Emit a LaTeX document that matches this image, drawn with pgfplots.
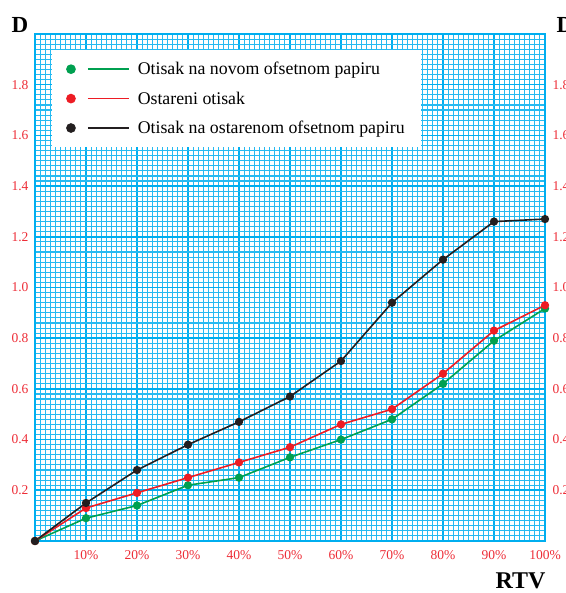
\documentclass[border=0pt]{standalone}
\usepackage{pgfplots}
\pgfplotsset{compat=1.18}
\usepackage{fontspec}
\setmainfont{Liberation Serif}
\definecolor{gridc}{RGB}{0,174,239}
\definecolor{tickred}{RGB}{237,45,55}
\definecolor{cgreen}{RGB}{0,160,80}
\definecolor{cred}{RGB}{237,28,36}
\definecolor{cblack}{RGB}{35,31,32}
\begin{document}
\begin{tikzpicture}
\pgfplotsset{
  common/.style={
    scale only axis, width=510bp, height=507bp,
    xmin=0, xmax=100, ymin=0, ymax=2.0,
    /pgf/number format/assume math mode=true,
  }
}
\begin{axis}[common,
  clip=false,
  xtick={0,10,...,100},
  xticklabels={,10\%,20\%,30\%,40\%,50\%,60\%,70\%,80\%,90\%,100\%},
  ytick={0,0.2,...,2.01},
  yticklabels={,0.2,0.4,0.6,0.8,1.0,1.2,1.4,1.6,1.8,},
  minor x tick num=9, minor y tick num=9,
  major tick length=0pt, minor tick length=0pt,
  grid=both,
  major grid style={draw=gridc, line width=1.6bp},
  minor grid style={draw=gridc!85, line width=1.1bp},
  axis line style={draw=gridc, line width=2bp},
  tick label style={font=\fontsize{13.5bp}{15bp}\selectfont, text=tickred},
  xticklabel style={yshift=-6bp},
  yticklabel style={xshift=-3bp},
  xlabel={\textbf{RTV}},
  xlabel style={at={(rel axis cs:1,0)}, anchor=base east, yshift=-47bp, xshift=4bp, font=\fontsize{24bp}{26bp}\selectfont},
  legend style={at={(0.0333,0.9685)}, anchor=north west, draw=none, fill=white,
    font=\fontsize{17.8bp}{20bp}\selectfont, row sep=11.5bp,
    inner xsep=14bp, inner ysep=10bp},
  legend cell align=left,
]
\addplot[cgreen, line width=1.6bp, mark=*, mark size=3.3bp,
  legend image code/.code={\draw[cgreen,line width=1.4bp] (17bp,0) -- (58bp,0); \fill[cgreen] (0,0) circle (4bp); \path (64bp,0);}]
  coordinates {(0,0) (10,0.09) (20,0.14) (30,0.22) (40,0.25) (50,0.33) (60,0.40) (70,0.48) (80,0.62) (90,0.79) (100,0.917)};
\addlegendentry{Otisak na novom ofsetnom papiru}
\addplot[cred, line width=1.6bp, mark=*, mark size=3.3bp,
  legend image code/.code={\draw[cred,line width=1.4bp] (17bp,0) -- (58bp,0); \fill[cred] (0,0) circle (4bp); \path (64bp,0);}]
  coordinates {(0,0) (10,0.13) (20,0.19) (30,0.25) (40,0.31) (50,0.37) (60,0.46) (70,0.52) (80,0.66) (90,0.83) (100,0.93)};
\addlegendentry{Ostareni otisak}
\addplot[cblack, line width=1.6bp, mark=*, mark size=3.3bp,
  legend image code/.code={\draw[cblack,line width=1.4bp] (17bp,0) -- (58bp,0); \fill[cblack] (0,0) circle (4bp); \path (64bp,0);}]
  coordinates {(0,0) (10,0.15) (20,0.28) (30,0.38) (40,0.47) (50,0.57) (60,0.71) (70,0.94) (80,1.11) (90,1.26) (100,1.27)};
\addlegendentry{Otisak na ostarenom ofsetnom papiru}
\node[anchor=base, font=\fontsize{23bp}{25bp}\selectfont\bfseries] at ([xshift=-15bp,yshift=1bp]rel axis cs:0,1) {D};
\node[anchor=base west, font=\fontsize{23bp}{25bp}\selectfont\bfseries] at ([xshift=8bp,yshift=1bp]rel axis cs:1,1) {D};
\end{axis}
\begin{axis}[common,
  hide x axis,
  axis y line*=right,
  axis line style={draw=none},
  major tick length=0pt,
  ytick={0.2,0.4,...,1.81},
  yticklabels={0.2,0.4,0.6,0.8,1.0,1.2,1.4,1.6,1.8},
  yticklabel style={font=\fontsize{13.5bp}{15bp}\selectfont, text=tickred, xshift=4bp},
]
\end{axis}
\pgfresetboundingbox
\path[use as bounding box] (-35bp,-52bp) rectangle (531bp,541bp);
\end{tikzpicture}
\end{document}
